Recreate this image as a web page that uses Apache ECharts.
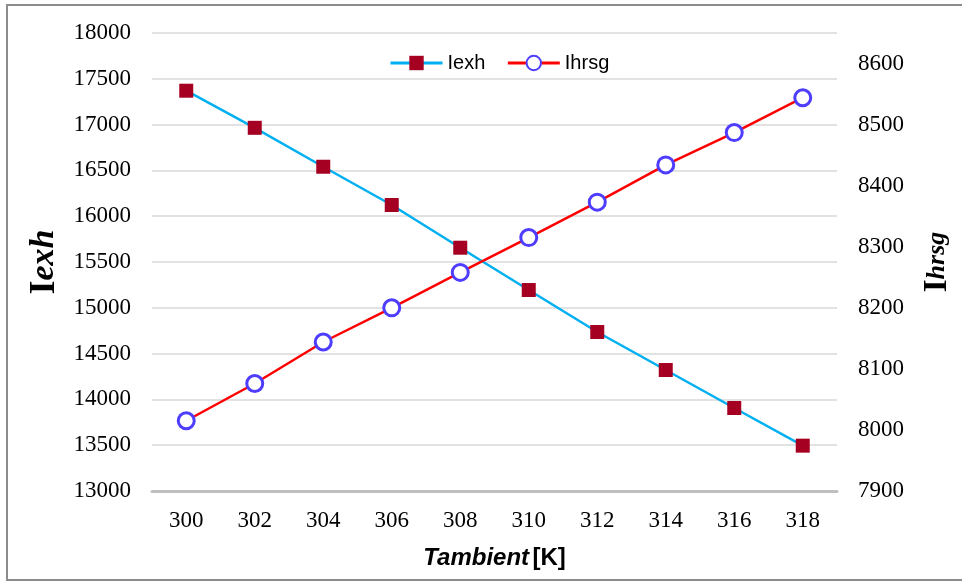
<!DOCTYPE html>
<html>
<head>
<meta charset="utf-8">
<script src="https://cdn.jsdelivr.net/npm/echarts@6/dist/echarts.min.js"></script>
<style>
  html, body { margin: 0; padding: 0; background: #fff; }
  #chart { width: 962px; height: 581px; }
</style>
</head>
<body>
<div id="chart"></div>
<script>
// Ambient temperature [K] on the category axis
const temperatures = ['300', '302', '304', '306', '308', '310', '312', '314', '316', '318'];
// Left axis series
const iexh = [17370, 16965, 16540, 16122, 15656, 15194, 14736, 14321, 13906, 13495];
// Right axis series
const ihrsg = [8015, 8076, 8144, 8200, 8258, 8315, 8373, 8434, 8487, 8544];

const serif = '"Liberation Serif", "Times New Roman", serif';
const sans = '"Liberation Sans", Arial, sans-serif';
const plain = v => String(v);

const chart = echarts.init(document.getElementById('chart'), null, { renderer: 'canvas' });

chart.setOption({
  backgroundColor: '#ffffff',
  animation: false,
  graphic: [{
    type: 'rect',
    shape: { x: 7, y: 5, width: 980, height: 575 },
    style: { fill: 'none', stroke: '#8c8c8c', lineWidth: 2 },
    silent: true,
    z: -1
  }],
  legend: {
    left: 384,
    top: 48,
    itemWidth: 52,
    itemHeight: 18,
    itemGap: 21,
    lineStyle: { width: 3 },
    textStyle: { fontFamily: sans, fontSize: 20, color: '#000' },
    data: ['Iexh', 'Ihrsg']
  },
  grid: { left: 152, right: 120, top: 33, bottom: 90, containLabel: false },
  xAxis: {
    type: 'category',
    data: temperatures,
    boundaryGap: true,
    axisTick: { show: false },
    axisLine: { lineStyle: { color: '#bfbfbf', width: 3 } },
    axisLabel: { fontFamily: serif, fontSize: 23, color: '#000', margin: 18 },
    name: '{bi|Tambient} {b|[K]}',
    nameLocation: 'middle',
    nameGap: 55,
    nameTextStyle: {
      rich: {
        bi: { fontFamily: sans, fontSize: 24, fontWeight: 'bold', fontStyle: 'italic', color: '#000' },
        b: { fontFamily: sans, fontSize: 24, fontWeight: 'bold', color: '#000' }
      }
    }
  },
  yAxis: [{
    type: 'value',
    min: 13000,
    max: 18000,
    interval: 500,
    axisLine: { show: false },
    axisTick: { show: false },
    axisLabel: { fontFamily: serif, fontSize: 23, color: '#000', margin: 21, formatter: plain },
    splitLine: { lineStyle: { color: '#d9d9d9', width: 1.5 } },
    name: '{I|I}{s|exh}',
    nameLocation: 'middle',
    nameRotate: 90,
    nameGap: 80,
    nameTextStyle: {
      rich: {
        I: { fontFamily: serif, fontSize: 36, fontWeight: 'bold', color: '#000' },
        s: { fontFamily: serif, fontSize: 34, fontWeight: 'bold', fontStyle: 'italic', color: '#000' }
      }
    }
  }, {
    type: 'value',
    position: 'right',
    min: 7900,
    max: 8650,
    interval: 100,
    axisLine: { show: false },
    axisTick: { show: false },
    splitLine: { show: false },
    axisLabel: { fontFamily: serif, fontSize: 23, color: '#000', margin: 21, showMaxLabel: false, formatter: plain },
    name: '{I|I}{s|hrsg}',
    nameLocation: 'middle',
    nameRotate: 90,
    nameGap: 84,
    nameTextStyle: {
      rich: {
        I: { fontFamily: serif, fontSize: 33, fontWeight: 'bold', color: '#000' },
        s: { fontFamily: serif, fontSize: 26, fontWeight: 'bold', fontStyle: 'italic', color: '#000' }
      }
    }
  }],
  series: [{
    name: 'Iexh',
    type: 'line',
    yAxisIndex: 0,
    data: iexh,
    symbol: 'rect',
    symbolSize: 14,
    lineStyle: { color: '#00b0f0', width: 2.5 },
    itemStyle: { color: '#a50021', borderWidth: 0 },
    color: '#00b0f0'
  }, {
    name: 'Ihrsg',
    type: 'line',
    yAxisIndex: 1,
    data: ihrsg,
    symbol: 'circle',
    symbolSize: 16,
    showAllSymbol: true,
    lineStyle: { color: '#ff0000', width: 2.5 },
    itemStyle: { color: '#ffffff', borderColor: '#4f3dff', borderWidth: 3 },
    color: '#ff0000'
  }]
});
</script>
</body>
</html>
